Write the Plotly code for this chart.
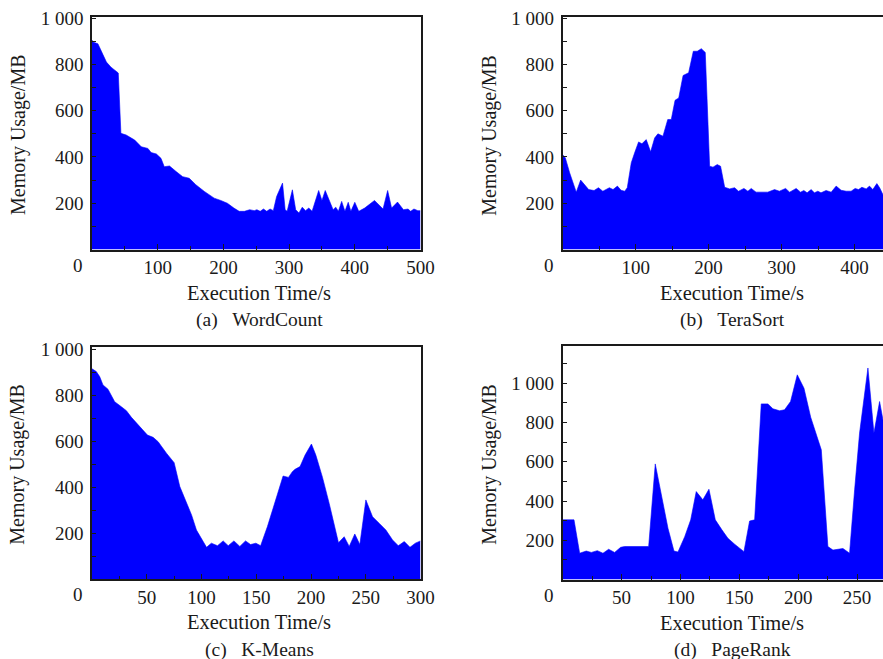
import plotly.graph_objects as go

W, H = 883, 659

# ---------------- data ----------------
wc_t = [0, 3, 9, 14, 22, 29, 40, 44, 52, 65, 75, 85, 90, 98, 105, 110, 118, 128, 138, 148, 158, 171, 186,
        196, 206, 216, 224, 232, 240, 247, 251, 256, 261, 266, 271, 276, 281, 290, 294, 297, 305, 310, 315,
        320, 325, 330, 335, 345, 350, 355, 362, 367, 371, 375, 380, 385, 390, 394, 400, 406, 415, 430, 443,
        450, 456, 465, 474, 481, 485, 490, 496, 500]
wc_mem = [905, 895, 889, 860, 810, 788, 763, 502, 495, 473, 444, 437, 419, 413, 394, 358, 361, 337, 315, 308,
          280, 251, 222, 212, 200, 179, 165, 165, 172, 168, 172, 165, 175, 165, 175, 168, 229, 287, 172, 165,
          258, 172, 158, 183, 168, 179, 165, 255, 212, 255, 208, 172, 183, 165, 208, 165, 204, 165, 204, 165,
          179, 212, 175, 255, 179, 205, 172, 175, 165, 175, 168, 168]

ts_t = [0, 3.6, 9.6, 18.6, 24.6, 30, 35.6, 43, 49, 55, 64, 69, 75, 80, 85, 88.5, 94, 98.6, 104, 108.6, 114.5,
        120.5, 126, 130.5, 137.4, 144, 148.8, 154, 159, 165, 172.6, 179, 184.4, 190, 195.4, 201.4, 206, 211.8,
        216.4, 222, 228.8, 235.6, 241, 248.4, 253.8, 258.4, 265, 281, 290.4, 297, 305.5, 311, 320, 326, 330.5,
        335, 340.5, 345, 349.7, 354, 361, 368, 374.8, 381.6, 388.5, 395.3, 400.8, 405.5, 410, 416, 420.5, 425,
        430.6, 434.4, 438.8, 440]
ts_mem = [410, 396, 331, 248, 300, 281, 259, 255, 267, 252, 267, 259, 274, 256, 252, 267, 375, 418, 465, 457,
          475, 422, 482, 500, 490, 562, 562, 645, 655, 752, 764, 857, 857, 868, 852, 360, 356, 367, 360, 269,
          262, 267, 252, 264, 252, 264, 248, 248, 259, 252, 264, 248, 264, 248, 255, 245, 259, 245, 252, 245,
          255, 248, 274, 256, 252, 252, 264, 259, 269, 262, 274, 259, 285, 267, 238, 230]

km_t = [0, 3.9, 7, 10, 14.6, 17.1, 20.7, 26.8, 31.4, 36, 42, 50.6, 55.8, 60.4, 68, 75, 80.2, 86.3, 90.9, 95.4,
        104.6, 109, 114.6, 119.8, 124.4, 129.6, 135, 140.2, 144.8, 149.7, 154, 160.2, 167.8, 174.5, 179.4, 183,
        185.4, 190, 194.6, 200.4, 204.4, 210.5, 216.6, 225.1, 230.3, 234.9, 240, 244.6, 250.1, 256.2, 262.4,
        268.4, 274.5, 279.7, 285.2, 290.4, 295.3, 300]
km_mem = [915, 903, 881, 845, 826, 801, 772, 750, 733, 704, 674, 627, 617, 598, 548, 507, 403, 337, 280, 214,
          139, 157, 146, 167, 146, 167, 143, 167, 151, 157, 146, 229, 352, 449, 443, 468, 478, 490, 540, 588,
          540, 443, 330, 159, 185, 143, 197, 151, 345, 272, 243, 214, 171, 146, 164, 139, 157, 167]

pr_t = [0, 9.6, 14.4, 20, 24.3, 29.4, 34.2, 39, 44.1, 49.2, 52.6, 73, 78.6, 84.3, 89.4, 94.5, 97.9, 103.6,
        108.7, 113.4, 119, 124.2, 129.6, 135.2, 140.3, 146, 153.9, 158.7, 163, 168.6, 174.3, 178.5, 184.2,
        188.4, 193.5, 199.2, 204.9, 210.6, 215.3, 219.6, 225.2, 229.5, 238, 243.6, 247.9, 252.1, 259.2, 264.3,
        269.1, 273]
pr_mem = [304, 304, 134, 145, 138, 147, 134, 154, 138, 164, 168, 168, 589, 423, 261, 145, 140, 218, 304, 448,
          406, 460, 304, 253, 210, 180, 142, 298, 304, 895, 895, 870, 860, 865, 907, 1043, 975, 827, 737, 661,
          168, 150, 158, 134, 457, 746, 1078, 746, 907, 780]

y_ticks = [200, 400, 600, 800, 1000]
y_ticktext = ["200", "400", "600", "800", "1 000"]
x_ticks_a = [100, 200, 300, 400, 500]
x_ticks_b = [100, 200, 300, 400]
x_ticks_c = [50, 100, 150, 200, 250, 300]
x_ticks_d = [50, 100, 150, 200, 250]
captions = ["(a)\u00a0\u00a0\u00a0WordCount", "(b)\u00a0\u00a0\u00a0TeraSort",
            "(c)\u00a0\u00a0\u00a0K-Means", "(d)\u00a0\u00a0\u00a0PageRank"]
x_title = "Execution Time/s"
y_title = "Memory Usage/MB"

# ---------------- layout helpers ----------------
FONT = "Liberation Serif, Times New Roman, serif"
INK = "#1a1a1a"
BLUE = "rgb(0,0,255)"


def px(x):
    return x / W


def py(y):
    return 1 - y / H


panels = [
    dict(t=wc_t, m=wc_mem, xt=x_ticks_a, xr=500, xminor=50, yr=1005, xd=(92, 420.5), yd=(17, 249.5), box=True),
    dict(t=ts_t, m=ts_mem, xt=x_ticks_b, xr=439, xminor=50, yr=1005, xd=(562.7, 883), yd=(17, 249.5), box=False),
    dict(t=km_t, m=km_mem, xt=x_ticks_c, xr=300, xminor=25, yr=1011, xd=(92, 420.5), yd=(346.7, 579.3), box=True),
    dict(t=pr_t, m=pr_mem, xt=x_ticks_d, xr=272, xminor=25, yr=1190, xd=(562.7, 883), yd=(346, 579.5), box=False),
]

fig = go.Figure()
layout = dict(width=W, height=H, margin=dict(l=0, r=0, t=0, b=0, autoexpand=False), paper_bgcolor="white",
              plot_bgcolor="white", showlegend=False, font=dict(family=FONT, color=INK, size=19))
annotations = []

for i, p in enumerate(panels):
    n = "" if i == 0 else str(i + 1)
    fig.add_trace(go.Scatter(x=p["t"], y=p["m"], mode="lines", fill="tozeroy", fillcolor=BLUE,
                             line=dict(color=BLUE, width=0.6), xaxis="x" + n, yaxis="y" + n,
                             hoverinfo="skip"))
    ymajor = [v for v in y_ticks if v <= p["yr"]]
    ytext = [y_ticktext[y_ticks.index(v)] for v in ymajor]
    layout["xaxis" + n] = dict(
        domain=[px(p["xd"][0]), px(p["xd"][1])], anchor="y" + n, range=[0, p["xr"]], automargin=False,
        showline=True, linecolor=INK, linewidth=1.6, mirror=True, ticks="inside", ticklen=6,
        tickwidth=1.4, tickcolor=INK, tickvals=p["xt"], showgrid=False, zeroline=False,
        tickfont=dict(family=FONT, size=19, color=INK), ticklabelstandoff=0,
        minor=dict(ticks="inside", ticklen=4, tickwidth=1.2, tickcolor=INK, dtick=p["xminor"], tick0=0,
                   showgrid=False),
        layer="above traces")
    layout["yaxis" + n] = dict(
        domain=[py(p["yd"][1]), py(p["yd"][0])], anchor="x" + n, range=[0, p["yr"]], automargin=False,
        showline=True, linecolor=INK, linewidth=1.6, mirror=p["box"], ticks="inside", ticklen=4,
        tickwidth=1.4, tickcolor=INK, tickvals=ymajor, ticktext=ytext, showgrid=False, zeroline=False,
        tickfont=dict(family=FONT, size=19, color=INK), ticklabelstandoff=3,
        minor=dict(ticks="inside", ticklen=4, tickwidth=1.2, tickcolor=INK, dtick=100, tick0=0,
                   showgrid=False),
        layer="above traces")

    x0, x1 = p["xd"]
    y0, y1 = p["yd"]
    cx = (x0 + (x1 if p["box"] else 896)) / 2 + 3
    annotations.append(dict(text="0", x=px(x0 - 14), y=py(y1 + 15.5), xref="paper", yref="paper",
                            showarrow=False, font=dict(size=19, family=FONT, color=INK),
                            xanchor="center", yanchor="middle"))
    annotations.append(dict(text=x_title, x=px(cx), y=py(y1 + 43), xref="paper", yref="paper",
                            showarrow=False, font=dict(size=20.5, family=FONT, color=INK),
                            xanchor="center", yanchor="middle"))
    annotations.append(dict(text=captions[i], x=px(cx), y=py(y1 + 70.5), xref="paper", yref="paper",
                            showarrow=False, font=dict(size=19.5, family=FONT, color=INK),
                            xanchor="center", yanchor="middle"))
    annotations.append(dict(text=y_title, x=px(x0 - 74), y=py(y0 + 118), xref="paper", yref="paper",
                            showarrow=False, textangle=-90, font=dict(size=20, family=FONT, color=INK),
                            xanchor="center", yanchor="middle"))

layout["annotations"] = annotations
fig.update_layout(**layout)
fig.write_html("out.html", config={"displayModeBar": False},
               post_script="document.body.style.margin='0';document.body.style.overflow='hidden';")
